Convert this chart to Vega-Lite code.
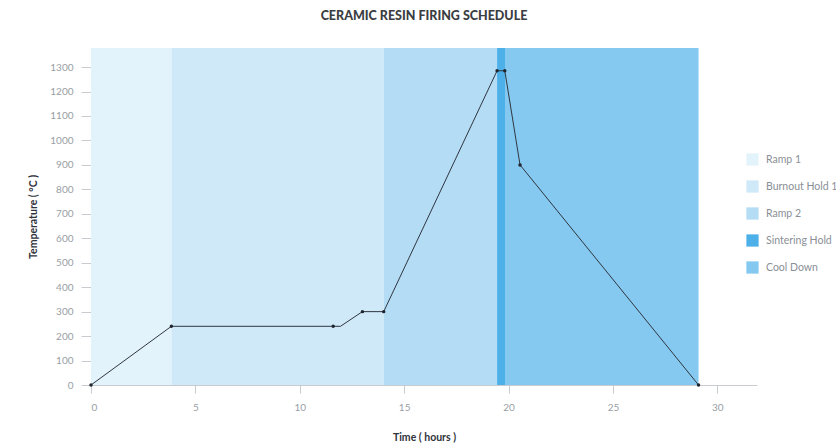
{
  "$schema": "https://vega.github.io/schema/vega-lite/v6.json",
  "width": 666,
  "height": 337,
  "autosize": "none",
  "padding": {"left": 91, "top": 48, "right": 79, "bottom": 58},
  "background": "#ffffff",
  "title": {
    "text": "CERAMIC RESIN FIRING SCHEDULE",
    "font": "Lato",
    "fontSize": 12.5,
    "fontWeight": 900,
    "color": "#3a3d42",
    "offset": 26
  },
  "datasets": {
    "phases": [
      {"phase": "Ramp 1", "start": 0, "end": 3.85},
      {"phase": "Burnout Hold 1", "start": 3.85, "end": 14.02},
      {"phase": "Ramp 2", "start": 14.02, "end": 19.45},
      {"phase": "Sintering Hold", "start": 19.45, "end": 19.83},
      {"phase": "Cool Down", "start": 19.83, "end": 29.1}
    ],
    "temps": [
      {"time": 0, "temp": 0, "dot": "yes"},
      {"time": 3.85, "temp": 240, "dot": "yes"},
      {"time": 11.6, "temp": 240, "dot": "yes"},
      {"time": 11.95, "temp": 240, "dot": "no"},
      {"time": 13, "temp": 300, "dot": "yes"},
      {"time": 14.02, "temp": 300, "dot": "yes"},
      {"time": 19.45, "temp": 1285, "dot": "yes"},
      {"time": 19.82, "temp": 1285, "dot": "yes"},
      {"time": 20.55, "temp": 900, "dot": "yes"},
      {"time": 29.1, "temp": 0, "dot": "yes"}
    ]
  },
  "layer": [
    {
      "data": {"name": "phases"},
      "mark": {"type": "rect", "opacity": 1},
      "encoding": {
        "x": {"field": "start", "type": "quantitative", "scale": {"domain": [0, 31.9], "nice": false}},
        "x2": {"field": "end"},
        "color": {
          "field": "phase",
          "type": "nominal",
          "scale": {
            "domain": ["Ramp 1", "Burnout Hold 1", "Ramp 2", "Sintering Hold", "Cool Down"],
            "range": ["#e3f3fb", "#cfe9f8", "#b4dcf4", "#4db0e9", "#85c9f0"]
          },
          "legend": {
            "title": null,
            "orient": "none",
            "legendX": 655,
            "legendY": 105,
            "symbolType": "square",
            "symbolSize": 150,
            "symbolStrokeWidth": 0,
            "symbolOpacity": 1,
            "rowPadding": 14,
            "labelFont": "Lato",
            "labelFontSize": 10.5,
            "labelColor": "#8a8f96",
            "labelOffset": 7,
            "labelLimit": 200
          }
        }
      }
    },
    {
      "data": {"name": "temps"},
      "mark": {"type": "line", "color": "#2f3640", "strokeWidth": 1},
      "encoding": {
        "x": {"field": "time", "type": "quantitative"},
        "y": {"field": "temp", "type": "quantitative"}
      }
    },
    {
      "data": {"name": "temps"},
      "transform": [{"filter": "datum.dot == 'yes'"}],
      "mark": {"type": "point", "filled": true, "color": "#1f252d", "size": 12, "opacity": 1},
      "encoding": {
        "x": {"field": "time", "type": "quantitative"},
        "y": {"field": "temp", "type": "quantitative"}
      }
    }
  ],
  "encoding": {
    "x": {
      "type": "quantitative",
      "scale": {"domain": [0, 31.9], "nice": false, "zero": true},
      "axis": {
        "title": "Time ( hours )",
        "values": [0, 5, 10, 15, 20, 25, 30],
        "format": "d",
        "grid": false,
        "domainColor": "#c8ccd0",
        "tickColor": "#c8ccd0",
        "tickSize": 8,
        "labelPadding": 9,
        "labelFont": "Lato",
        "labelFontSize": 10,
        "labelColor": "#999ea4",
        "titleFont": "Lato",
        "titleFontSize": 10.5,
        "titleFontWeight": "bold",
        "titleColor": "#2f333a",
        "titlePadding": 20
      }
    },
    "y": {
      "type": "quantitative",
      "scale": {"domain": [0, 1378], "nice": false},
      "axis": {
        "title": "Temperature ( °C )",
        "values": [0, 100, 200, 300, 400, 500, 600, 700, 800, 900, 1000, 1100, 1200, 1300],
        "format": "d",
        "grid": false,
        "domainColor": "#c8ccd0",
        "tickColor": "#c8ccd0",
        "tickSize": 10,
        "labelPadding": 8,
        "labelFont": "Lato",
        "labelFontSize": 10,
        "labelColor": "#999ea4",
        "titleFont": "Lato",
        "titleFontSize": 10.5,
        "titleFontWeight": "bold",
        "titleColor": "#2f333a",
        "titlePadding": 11
      }
    }
  },
  "config": {
    "view": {"stroke": null}
  }
}
